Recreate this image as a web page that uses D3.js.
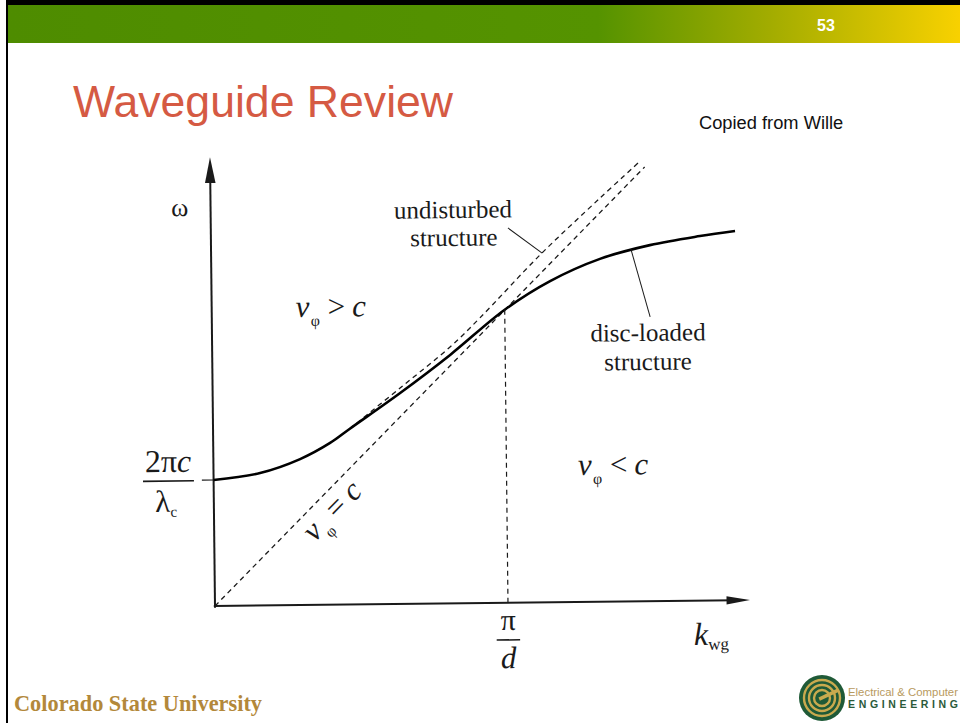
<!DOCTYPE html>
<html>
<head>
<meta charset="utf-8">
<script src="https://cdn.jsdelivr.net/npm/d3@7"></script>
<style>
  body { margin: 0; background: #fff; }
  svg { display: block; }
</style>
</head>
<body>
<svg id="slide" width="960" height="723"></svg>
<script>
// Dispersion diagram, k in units of π/d and ω in units of c·π/d.
// Disc-loaded structure (solid curve)
const kDisc     = [0.0, 0.159, 0.296, 0.399, 0.467, 0.640, 0.812, 1.0, 1.156, 1.327, 1.498, 1.669, 1.789];
const omegaDisc = [0.430, 0.452, 0.498, 0.552, 0.600, 0.720, 0.848, 1.0, 1.096, 1.170, 1.215, 1.244, 1.260];
// Undisturbed (smooth) waveguide, dashed part above the disc-loaded curve
const kFree     = [0.467, 0.640, 0.812, 0.915, 1.123, 1.330, 1.461];
const omegaFree = [0.600, 0.737, 0.875, 0.973, 1.186, 1.378, 1.496];
// Light line v_phi = c
const kLight     = [0.0, 1.483];
const omegaLight = [0.0, 1.482];
// Axis marks
const cutoffOmega = 0.430;   // 2πc / λc
const kPiOverD = 1.0;        // π / d
const kAxisMax = 1.826;
const omegaAxisMax = 1.532;

const svg = d3.select("#slide");
const W = 960, H = 723;

// ---------- slide frame ----------
const defs = svg.append("defs");
const grad = defs.append("linearGradient").attr("id", "bar")
  .attr("x1", 0).attr("x2", 1).attr("y1", 0).attr("y2", 0);
[[0, "#4e8c00"], [0.62, "#559300"], [0.80, "#a2ac00"], [1, "#f8d100"]]
  .forEach(([o, c]) => grad.append("stop").attr("offset", o).attr("stop-color", c));

svg.append("rect").attr("width", W).attr("height", H).attr("fill", "#fff");
svg.append("rect").attr("x", 6).attr("y", 0).attr("width", W - 6).attr("height", 5).attr("fill", "#000");
svg.append("rect").attr("x", 6).attr("y", 0).attr("width", 2).attr("height", H).attr("fill", "#000");
svg.append("rect").attr("x", 8).attr("y", 5).attr("width", W - 8).attr("height", 38).attr("fill", "url(#bar)");
svg.append("text").attr("x", 826).attr("y", 31).attr("text-anchor", "middle")
  .attr("font-family", "Liberation Sans, Arial, sans-serif").attr("font-weight", "bold")
  .attr("font-size", 16).attr("fill", "#fff").text("53");

svg.append("text").attr("x", 73).attr("y", 117)
  .attr("font-family", "Liberation Sans, Arial, sans-serif")
  .attr("font-size", 44.6).attr("fill", "#d55a43").text("Waveguide Review");

svg.append("text").attr("x", 699).attr("y", 129)
  .attr("font-family", "Liberation Sans, Arial, sans-serif")
  .attr("font-size", 18.3).attr("fill", "#111").text("Copied from Wille");

// ---------- chart ----------
const origin = { x: 215, y: 606 };
const unit = 293;
const x = d3.scaleLinear().domain([0, kAxisMax]).range([origin.x, origin.x + kAxisMax * unit]);
const y = d3.scaleLinear().domain([0, omegaAxisMax]).range([origin.y, origin.y - omegaAxisMax * unit]);

const g = svg.append("g").attr("transform", `rotate(-0.64, ${origin.x}, ${origin.y})`);
const serif = "Liberation Serif, Times New Roman, serif";
const ink = "#1a1a1a";

// axes
g.append("line").attr("x1", x(0)).attr("y1", y(-0.006)).attr("x2", x(0)).attr("y2", y(omegaAxisMax - 0.05))
  .attr("stroke", ink).attr("stroke-width", 2);
g.append("path")
  .attr("d", `M${x(0)},${y(omegaAxisMax)} L${x(-0.018)},${y(omegaAxisMax - 0.088)} L${x(0.018)},${y(omegaAxisMax - 0.088)} Z`)
  .attr("fill", ink);
g.append("line").attr("x1", x(-0.004)).attr("y1", y(0)).attr("x2", x(kAxisMax - 0.05)).attr("y2", y(0))
  .attr("stroke", ink).attr("stroke-width", 2);
g.append("path")
  .attr("d", `M${x(kAxisMax)},${y(0)} L${x(kAxisMax - 0.08)},${y(0.014)} L${x(kAxisMax - 0.08)},${y(-0.014)} Z`)
  .attr("fill", ink);

// cutoff tick
g.append("line").attr("x1", x(-0.04)).attr("y1", y(cutoffOmega)).attr("x2", x(0)).attr("y2", y(cutoffOmega))
  .attr("stroke", ink).attr("stroke-width", 1.2);

const dash = "5,4";
const straight = d3.line().x(d => x(d[0])).y(d => y(d[1]));
const smooth = d3.line().x(d => x(d[0])).y(d => y(d[1])).curve(d3.curveCatmullRom.alpha(0.5));

// light line
g.append("path").datum(d3.zip(kLight, omegaLight)).attr("d", straight)
  .attr("fill", "none").attr("stroke", ink).attr("stroke-width", 1.3).attr("stroke-dasharray", dash);

// undisturbed structure
g.append("path").datum(d3.zip(kFree, omegaFree)).attr("d", smooth)
  .attr("fill", "none").attr("stroke", ink).attr("stroke-width", 1.3).attr("stroke-dasharray", dash);

// disc-loaded structure
g.append("path").datum(d3.zip(kDisc, omegaDisc)).attr("d", smooth)
  .attr("fill", "none").attr("stroke", "#000").attr("stroke-width", 2.6);

// π/d marker
const omegaAtPi = omegaDisc[kDisc.indexOf(kPiOverD)];
g.append("line").attr("x1", x(kPiOverD)).attr("y1", y(0)).attr("x2", x(kPiOverD)).attr("y2", y(omegaAtPi))
  .attr("stroke", ink).attr("stroke-width", 1.2).attr("stroke-dasharray", dash);

// leader lines
g.append("line").attr("x1", x(1.014)).attr("y1", y(1.279)).attr("x2", x(1.13)).attr("y2", y(1.192))
  .attr("stroke", ink).attr("stroke-width", 1);
g.append("line").attr("x1", x(1.433)).attr("y1", y(1.202)).attr("x2", x(1.496)).attr("y2", y(0.970))
  .attr("stroke", ink).attr("stroke-width", 1);

// labels
function label(k, w, str, opts = {}) {
  return g.append("text").attr("x", x(k)).attr("y", y(w))
    .attr("font-family", serif).attr("font-size", opts.size || 25)
    .attr("text-anchor", opts.anchor || "middle").attr("fill", ink)
    .attr("font-style", opts.italic ? "italic" : null)
    .text(str);
}
label(0.827, 1.315, "undisturbed");
label(0.829, 1.220, "structure");
label(1.488, 0.888, "disc-loaded");
label(1.487, 0.789, "structure");
label(-0.105, 1.332, "ω", { size: 26 });

// phase-velocity region labels
function vphi(k, w, rel) {
  const t = g.append("text").attr("x", x(k)).attr("y", y(w))
    .attr("font-family", serif).attr("font-size", 31).attr("fill", ink);
  t.append("tspan").attr("font-style", "italic").text("v");
  t.append("tspan").attr("font-size", 16).attr("dy", 9).attr("dx", 1).text("φ");
  t.append("tspan").attr("dy", -9).attr("dx", 8).text(rel);
  t.append("tspan").attr("font-style", "italic").attr("dx", 7).text("c");
  return t;
}
vphi(0.287, 0.983, ">");
vphi(1.244, 0.433, "<");
const eqAt = [0.342, 0.212];
vphi(eqAt[0], eqAt[1], "=")
  .attr("transform", `rotate(-45, ${x(eqAt[0])}, ${y(eqAt[1])})`);

// ω cutoff label 2πc / λc
const numerator = g.append("text").attr("x", x(-0.155)).attr("y", y(0.459)).attr("text-anchor", "middle")
  .attr("font-family", serif).attr("font-size", 32).attr("fill", ink);
numerator.append("tspan").text("2π");
numerator.append("tspan").attr("font-style", "italic").text("c");
g.append("line").attr("x1", x(-0.241)).attr("y1", y(0.428)).attr("x2", x(-0.067)).attr("y2", y(0.428))
  .attr("stroke", ink).attr("stroke-width", 1.6);
const denominator = g.append("text").attr("x", x(-0.163)).attr("y", y(0.323)).attr("text-anchor", "middle")
  .attr("font-family", serif).attr("font-size", 31).attr("fill", ink);
denominator.append("tspan").text("λ");
denominator.append("tspan").attr("font-size", 15).attr("dy", 5).text("c");

// π/d label
label(kPiOverD, -0.093, "π", { size: 30 });
g.append("line").attr("x1", x(kPiOverD - 0.04)).attr("y1", y(-0.127)).attr("x2", x(kPiOverD + 0.04)).attr("y2", y(-0.127))
  .attr("stroke", ink).attr("stroke-width", 1.6);
label(kPiOverD, -0.223, "d", { size: 31, italic: true });

// k_wg label
const kLabel = g.append("text").attr("x", x(1.633)).attr("y", y(-0.151))
  .attr("font-family", serif).attr("font-size", 32).attr("fill", ink);
kLabel.append("tspan").attr("font-style", "italic").text("k");
kLabel.append("tspan").attr("font-size", 17).attr("dy", 5).text("wg");

// ---------- footer logos ----------
svg.append("text").attr("x", 14).attr("y", 711)
  .attr("font-family", "Liberation Serif, serif").attr("font-weight", "bold")
  .attr("font-size", 23).attr("fill", "#b3883a")
  .attr("textLength", 248).attr("lengthAdjust", "spacingAndGlyphs")
  .text("Colorado State University");

const logo = svg.append("g").attr("transform", "translate(822,698)");
logo.append("circle").attr("r", 23).attr("fill", "#1f5a37");
[18, 13, 8].forEach(r => logo.append("circle").attr("r", r).attr("fill", "none")
  .attr("stroke", "#c9aa4e").attr("stroke-width", 2.4));
logo.append("rect").attr("x", -3).attr("y", -2).attr("width", 21).attr("height", 3.5)
  .attr("fill", "#c9aa4e").attr("transform", "rotate(-25)");
svg.append("text").attr("x", 848).attr("y", 696)
  .attr("font-family", "Liberation Sans, Arial, sans-serif").attr("font-size", 11.5)
  .attr("fill", "#b89a5e").attr("textLength", 110).attr("lengthAdjust", "spacingAndGlyphs")
  .text("Electrical & Computer");
svg.append("text").attr("x", 848).attr("y", 708)
  .attr("font-family", "Liberation Sans, Arial, sans-serif").attr("font-size", 10.5).attr("font-weight", "bold")
  .attr("fill", "#2b5a3a").attr("textLength", 110).attr("lengthAdjust", "spacing")
  .text("ENGINEERING");
</script>
</body>
</html>
